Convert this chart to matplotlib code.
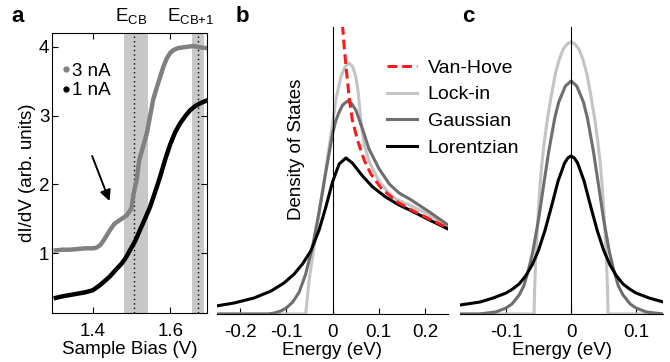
import matplotlib
matplotlib.use("Agg")
import matplotlib.pyplot as plt
from matplotlib.lines import Line2D

plt.rcParams['font.family'] = ['Liberation Sans', 'DejaVu Sans']
plt.rcParams['mathtext.fontset'] = 'custom'
plt.rcParams['mathtext.rm'] = 'Liberation Sans'
plt.rcParams['mathtext.it'] = 'Liberation Sans:italic'
FS = 13.5
FSL = 14

# ---------------- panel a data ----------------
bias_3nA = [1.305, 1.32, 1.34, 1.36, 1.38, 1.40, 1.41, 1.42, 1.43, 1.444, 1.455, 1.462,
            1.475, 1.488, 1.50, 1.505, 1.5135, 1.52, 1.53, 1.54, 1.556, 1.565, 1.574,
            1.583, 1.592, 1.60, 1.608, 1.62, 1.644, 1.66, 1.68, 1.695]
didv_3nA = [1.04, 1.05, 1.05, 1.06, 1.07, 1.07, 1.08, 1.12, 1.20, 1.33, 1.42, 1.45,
            1.50, 1.55, 1.65, 1.85, 2.06, 2.35, 2.55, 2.75, 3.23, 3.40, 3.56,
            3.72, 3.84, 3.91, 3.95, 3.98, 4.00, 4.01, 3.99, 3.98]
bias_1nA = [1.305, 1.32, 1.34, 1.36, 1.38, 1.40, 1.42, 1.444, 1.46, 1.475, 1.485, 1.496,
            1.51, 1.52, 1.535, 1.548, 1.56, 1.574, 1.587, 1.60, 1.613, 1.626, 1.64,
            1.652, 1.665, 1.678, 1.695]
didv_1nA = [0.35, 0.37, 0.39, 0.41, 0.43, 0.46, 0.54, 0.66, 0.76, 0.85, 0.93, 1.04,
            1.18, 1.31, 1.50, 1.67, 1.87, 2.11, 2.36, 2.58, 2.76, 2.89, 3.00,
            3.08, 3.14, 3.18, 3.22]
band_cb = (1.48, 1.543)
line_cb = 1.507
band_cb1 = (1.655, 1.688)
line_cb1 = 1.673

# ---------------- panel b data ----------------
e_vh = [0.0216, 0.0253, 0.030, 0.036, 0.043, 0.054, 0.0685, 0.083, 0.105, 0.137, 0.167, 0.21, 0.25]
dos_vh = [2.89, 2.67, 2.44, 2.17, 1.94, 1.74, 1.54, 1.40, 1.26, 1.13, 1.05, 0.95, 0.86]

e_lock_b = [-0.25, -0.058, -0.0505, -0.040, -0.029, -0.018, -0.0072, 0.0, 0.008, 0.018, 0.027,
            0.036, 0.044, 0.0505, 0.055, 0.058, 0.062, 0.0685, 0.079, 0.09, 0.101, 0.12,
            0.137, 0.167, 0.21, 0.25]
dos_lock_b = [0.0, 0.0, 0.34, 0.67, 1.01, 1.34, 1.67, 1.90, 2.16, 2.37, 2.47,
              2.51, 2.47, 2.37, 2.24, 2.11, 1.90, 1.70, 1.53, 1.42, 1.33, 1.22,
              1.15, 1.09, 0.99, 0.87]

e_gauss_b = [-0.25, -0.14, -0.126, -0.112, -0.10, -0.086, -0.072, -0.058, -0.043, -0.029,
             -0.0144, 0.0, 0.007, 0.0144, 0.022, 0.0325, 0.042, 0.0505, 0.065, 0.079,
             0.101, 0.123, 0.144, 0.167, 0.21, 0.25]
dos_gauss_b = [0.0, 0.0, 0.01, 0.03, 0.06, 0.12, 0.22, 0.40, 0.68, 1.02,
               1.42, 1.80, 1.93, 2.02, 2.09, 2.13, 2.10, 2.04, 1.85, 1.65,
               1.45, 1.30, 1.21, 1.15, 1.02, 0.89]

e_lor_b = [-0.252, -0.213, -0.17, -0.133, -0.105, -0.083, -0.065, -0.047, -0.029, -0.0144,
           0.0, 0.0144, 0.029, 0.043, 0.065, 0.087, 0.115, 0.144, 0.167, 0.21, 0.25]
dos_lor_b = [0.08, 0.11, 0.16, 0.23, 0.31, 0.40, 0.50, 0.63, 0.84, 1.07,
             1.32, 1.50, 1.56, 1.51, 1.38, 1.27, 1.17, 1.09, 1.04, 0.94, 0.85]

# ---------------- panel c data ----------------
e_lock_c = [-0.171, -0.057, -0.056, -0.054, -0.051, -0.048, -0.045, -0.041, -0.036, -0.030,
            -0.024, -0.018, -0.012, -0.006, 0.0, 0.006, 0.012, 0.018, 0.024, 0.030, 0.036,
            0.041, 0.045, 0.048, 0.051, 0.054, 0.056, 0.057, 0.142]
f_lock_c = [0.0, 0.0, 0.27, 0.61, 0.96, 1.27, 1.50, 1.73, 1.97, 2.20,
            2.41, 2.55, 2.65, 2.70, 2.72, 2.70, 2.65, 2.55, 2.41, 2.20, 1.97,
            1.73, 1.50, 1.27, 0.96, 0.61, 0.27, 0.0, 0.0]

e_gauss_c = [-0.171, -0.142, -0.116, -0.10, -0.091, -0.08, -0.0728, -0.066, -0.059, -0.0497,
             -0.042, -0.0343, -0.0251, -0.019, -0.0087, 0.0, 0.0087, 0.019, 0.0251, 0.0343,
             0.042, 0.0497, 0.059, 0.066, 0.0728, 0.08, 0.091, 0.10, 0.116, 0.142]
f_gauss_c = [0.0, 0.0, 0.02, 0.06, 0.10, 0.19, 0.28, 0.43, 0.62, 0.96,
             1.30, 1.63, 1.96, 2.12, 2.28, 2.33, 2.28, 2.12, 1.96, 1.63,
             1.30, 0.96, 0.62, 0.43, 0.28, 0.19, 0.10, 0.06, 0.02, 0.0]

e_lor_c = [-0.171, -0.14, -0.12, -0.10, -0.09, -0.08, -0.07, -0.06, -0.05, -0.04, -0.03,
           -0.02, -0.01, -0.005, 0.0, 0.005, 0.01, 0.02, 0.03, 0.04, 0.05, 0.06, 0.07, 0.08,
           0.09, 0.10, 0.12, 0.142]
f_lor_c = [0.09, 0.12, 0.16, 0.21, 0.25, 0.30, 0.38, 0.49, 0.64, 0.84, 1.08,
           1.33, 1.51, 1.56, 1.58, 1.56, 1.51, 1.33, 1.08, 0.84, 0.64, 0.49, 0.38, 0.30,
           0.25, 0.21, 0.16, 0.12]

legend_labels = ["Van-Hove", "Lock-in", "Gaussian", "Lorentzian"]

C_VH = '#ff1a1a'
C_LOCK = '#c4c4c4'
C_GAUSS = '#6e6e6e'
C_LOR = '#000000'

W, H = 670, 362
fig = plt.figure(figsize=(W / 100, H / 100), dpi=100)


def box(l, r, t, b):
    return [l / W, 1 - b / H, (r - l) / W, (b - t) / H]


# ---------------- panel a ----------------
ax = fig.add_axes(box(52, 207, 33, 313))
ax.axvspan(*band_cb, color='#c8c8c8', lw=0, zorder=0)
ax.axvspan(*band_cb1, color='#c8c8c8', lw=0, zorder=0)
ax.axvline(line_cb, color='k', ls=(0, (1, 2.2)), lw=1.0, zorder=1)
ax.axvline(line_cb1, color='k', ls=(0, (1, 2.2)), lw=1.0, zorder=1)
ax.plot(bias_3nA, didv_3nA, color='#808080', lw=3.2, zorder=2)
ax.plot(bias_1nA, didv_1nA, color='k', lw=3.2, zorder=3)
ax.set_xlim(1.295, 1.695)
ax.set_ylim(0.13, 4.2)
ax.set_xticks([1.4, 1.6])
ax.set_yticks([1, 2, 3, 4])
ax.tick_params(direction='in', top=True, right=True, labelsize=FS, length=4, width=0.8)
ax.tick_params(axis='x', pad=7)
ax.tick_params(axis='y', pad=2)
for s in ax.spines.values():
    s.set_linewidth(0.8)
ax.set_xlabel("Sample Bias (V)", fontsize=FS, labelpad=1)
ax.set_ylabel("dI/dV (arb. units)", fontsize=FS, labelpad=2)
ax.annotate("", xy=(1.446, 1.72), xytext=(1.396, 2.45),
            arrowprops=dict(arrowstyle='-|>', color='k', lw=1.4, mutation_scale=16))
hl = [Line2D([], [], ls='none', marker='o', ms=3.5, color='#808080'),
      Line2D([], [], ls='none', marker='o', ms=3.5, color='k')]
ax.legend(hl, ["3 nA", "1 nA"], loc='upper left', bbox_to_anchor=(0.07, 0.895),
          frameon=False, fontsize=FS, handlelength=0.3, handletextpad=0.2,
          labelspacing=0.15, borderpad=0, borderaxespad=0)
ax.text(1.5, 1.025, r"$\mathregular{E_{CB}}$", transform=ax.get_xaxis_transform(),
        ha='center', va='bottom', fontsize=FS)
ax.text(1.652, 1.025, r"$\mathregular{E_{CB{+}1}}$", transform=ax.get_xaxis_transform(),
        ha='center', va='bottom', fontsize=FS)

# ---------------- panel b ----------------
bx = fig.add_axes(box(217, 448, 27, 314))
bx.plot(e_lock_b, dos_lock_b, color=C_LOCK, lw=2.2, zorder=2)
bx.plot(e_gauss_b, dos_gauss_b, color=C_GAUSS, lw=2.2, zorder=3)
bx.plot(e_lor_b, dos_lor_b, color=C_LOR, lw=2.2, zorder=4)
bx.plot(e_vh, dos_vh, color=C_VH, lw=2.2, ls=(0, (3.2, 1.6)), zorder=5)
bx.axvline(0, color='k', lw=0.8, zorder=6)
bx.set_xlim(-0.25, 0.25)
bx.set_ylim(0, 2.87)
bx.set_xticks([-0.2, -0.1, 0, 0.1, 0.2])
bx.set_xticklabels(["-0.2", "-0.1", "0", "0.1", "0.2"])
bx.set_yticks([])
for k in ('left', 'right', 'top'):
    bx.spines[k].set_visible(False)
bx.spines['bottom'].set_linewidth(0.8)
bx.tick_params(axis='x', direction='in', labelsize=FS, length=4, width=0.8, pad=7)
bx.set_xlabel("Energy (eV)", fontsize=FS, labelpad=1)
bx.text(0.342, 0.575, "Density of States", transform=bx.transAxes, rotation=90,
        ha='center', va='center', fontsize=FS)

# ---------------- panel c ----------------
cx = fig.add_axes(box(460, 663, 27, 314))
cx.plot(e_lock_c, f_lock_c, color=C_LOCK, lw=2.2, zorder=2)
cx.plot(e_gauss_c, f_gauss_c, color=C_GAUSS, lw=2.2, zorder=3)
cx.plot(e_lor_c, f_lor_c, color=C_LOR, lw=2.2, zorder=4)
cx.axvline(0, color='k', lw=0.8, zorder=6)
cx.set_xlim(-0.171, 0.1415)
cx.set_ylim(0, 2.87)
cx.set_xticks([-0.1, 0, 0.1])
cx.set_xticklabels(["-0.1", "0", "0.1"])
cx.set_yticks([])
for k in ('left', 'right', 'top'):
    cx.spines[k].set_visible(False)
cx.spines['bottom'].set_linewidth(0.8)
cx.tick_params(axis='x', direction='in', labelsize=FS, length=4, width=0.8, pad=7)
cx.set_xlabel("Energy (eV)", fontsize=FS, labelpad=1)

# legend
lh = [Line2D([], [], color=C_VH, lw=2.2, ls=(0, (3.2, 1.6))),
      Line2D([], [], color=C_LOCK, lw=2.2),
      Line2D([], [], color=C_GAUSS, lw=2.2),
      Line2D([], [], color=C_LOR, lw=2.2)]
fig.legend(lh, legend_labels, loc='upper left', bbox_to_anchor=(387 / W, 1 - 59 / H),
           frameon=False, fontsize=FSL, handlelength=1.55, handletextpad=0.55,
           labelspacing=0.47, borderpad=0, borderaxespad=0)

# panel letters
fig.text(11 / W, 1 - 16 / H, "a", fontsize=16, fontweight='bold', va='center', ha='left')
fig.text(236 / W, 1 - 16 / H, "b", fontsize=16, fontweight='bold', va='center', ha='left')
fig.text(462 / W, 1 - 16 / H, "c", fontsize=16, fontweight='bold', va='center', ha='left')

fig.savefig("out.png", dpi=100)
